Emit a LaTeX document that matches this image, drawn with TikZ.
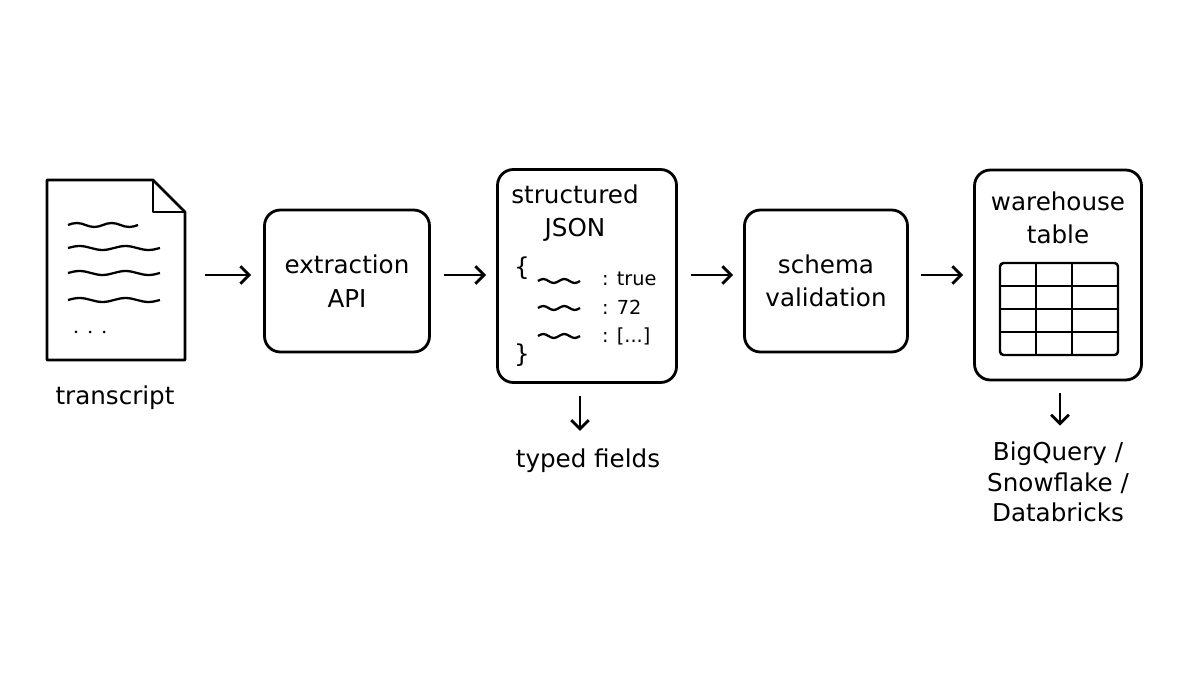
\documentclass[tikz,border=0pt]{standalone}
\usepackage{fontspec}
\setmainfont{DejaVu Sans}
\usetikzlibrary{arrows.meta, positioning, calc}

\newcommand{\squig}[3]{% x start, y, length
  \draw[line width=1.3pt] (#1,#2) sin ++(#3/8,-2) cos ++(#3/8,2) sin ++(#3/8,2) cos ++(#3/8,-2)
    sin ++(#3/8,-2) cos ++(#3/8,2) sin ++(#3/8,2) cos ++(#3/8,-2);}

\begin{document}
\begin{tikzpicture}[
    x=0.02cm, y=-0.02cm,
    box/.style={draw, line width=1.6pt, rounded corners=9pt, inner sep=0pt},
    label/.style={font=\fontsize{14}{19}\selectfont, align=center},
    small/.style={font=\fontsize{11}{13}\selectfont},
    arrow/.style={-{Straight Barb[length=5pt,width=10pt]}, line width=1.6pt}
]
    \useasboundingbox (0,0) rectangle (1200,675);

    % Document
    \draw[line width=1.6pt, line join=round] (47,180) -- (153,180) -- (185,212) -- (185,360) -- (47,360) -- cycle;
    \draw[line width=1.6pt, line join=round] (153,180) -- (153,212) -- (185,212);
    \coordinate (doc) at (185,275);
    \squig{68}{225}{70}
    \squig{68}{248}{92}
    \squig{68}{273}{92}
    \squig{68}{300}{92}
    \foreach \x in {76,90,104} \fill (\x,332) circle (1.5);
    \node[label] (transcript) at (115,398) {transcript};

    % Boxes
    \node[box, minimum width=3.3cm, minimum height=2.84cm] (api) at (347,281) {};
    \node[label] at (api) {extraction\\API};

    \node[box, minimum width=3.58cm, minimum height=4.26cm] (json) at (587,276) {};
    \node[label] at (575,213) {structured\\JSON};
    \node[label] at (522,268) {\{};
    \node[label] at (522,355) {\}};
    \squig{538}{281}{42}
    \squig{538}{308}{42}
    \squig{538}{336}{42}
    \node[small, anchor=west] at (596,279) {: true};
    \node[small, anchor=west] at (596,307) {: 72};
    \node[small, anchor=west] at (596,336) {: [...]};
    \node[label] (typed) at (588,461) {typed fields};

    \node[box, minimum width=3.26cm, minimum height=2.84cm] (schema) at (826,281) {};
    \node[label] at (schema) {schema\\validation};

    \node[box, minimum width=3.34cm, minimum height=4.2cm] (wh) at (1058,275) {};
    \node[label] at (1058,218) {warehouse\\table};
    \draw[line width=1.4pt, rounded corners=2pt] (1000,263) rectangle (1118,355);
    \foreach \x in {1036,1072} \draw[line width=1.4pt] (\x,263) -- (\x,355);
    \foreach \y in {286,309,332} \draw[line width=1.4pt] (1000,\y) -- (1118,\y);
    \node[label, font=\fontsize{14}{17.5}\selectfont] (dest) at (1058,482) {BigQuery /\\Snowflake /\\Databricks};

    % Arrows
    \draw[arrow] ($(doc)+(20,0)$) -- ($(api.west)+(-12,-6)$);
    \draw[arrow] ($(api.east)+(13,-6)$) -- ($(json.west)+(-10,-1)$);
    \draw[arrow] ($(json.east)+(13,-1)$) -- ($(schema.west)+(-10,-6)$);
    \draw[arrow] ($(schema.east)+(12,-6)$) -- ($(wh.west)+(-10,0)$);
    \draw[arrow] ($(json.south)+(-7,12)$) -- ($(typed.north)+(-8,-12)$);
    \draw[arrow] ($(wh.south)+(2,12)$) -- ($(dest.north)+(2,-10)$);
\end{tikzpicture}
\end{document}
